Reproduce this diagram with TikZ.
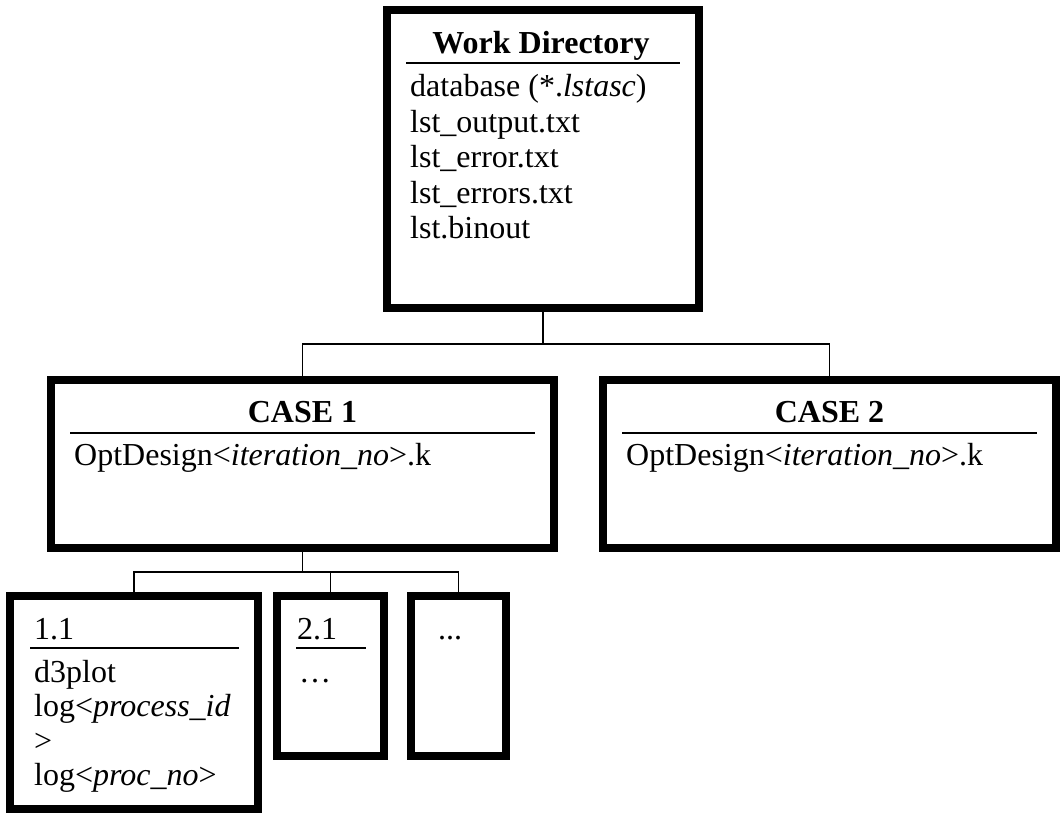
\documentclass[tikz,border=0pt]{standalone}
\usepackage{fontspec}
\setmainfont{Liberation Serif}
\usetikzlibrary{
  positioning,
  calc
}

\begin{document}
\begin{tikzpicture}[
  x=1pt, y=-1pt,
  font=\fontsize{32}{35.5}\selectfont,
  folder/.style={
    draw=black,
    line width=8pt,
    inner sep=0pt,
    outer sep=0pt
  },
  link/.style={
    draw=black,
    line width=1.8pt
  },
  rule/.style={
    line width=1.5pt
  },
  entry/.style={
    anchor=base west,
    inner sep=0pt
  },
  heading/.style={
    anchor=base,
    inner sep=0pt,
    font=\fontsize{32}{35.5}\selectfont\bfseries
  }
]

\useasboundingbox (0,0) rectangle (1061,814);

% Boxes
\node[folder, minimum width=312pt, minimum height=298pt] (workdir) at (543,159) {};
\node[folder, minimum width=503pt, minimum height=168pt] (case1) at (302.5,464) {};
\node[folder, minimum width=453pt, minimum height=168pt] (case2) at (829.5,464) {};
\node[folder, minimum width=248pt, minimum height=213pt] (run11) at (134,702.5) {};
\node[folder, minimum width=107pt, minimum height=160pt] (run21) at (330.5,676) {};
\node[folder, minimum width=95pt, minimum height=160pt] (runmore) at (458.5,676) {};

% Work directory
\node[heading] (workdir-title) at ($(workdir.north)+(-2,43)$) {Work Directory};
\draw[rule] ($(workdir.north west)+(19,53)$) -- ($(workdir.north east)+(-19,53)$);
\foreach \f [count=\i from 0] in {database (*.\textit{lstasc}), lst\_output.txt, lst\_error.txt, lst\_errors.txt, lst.binout} {
  \node[entry] (workdir-\i) at ($(workdir.north west)+(23,86.5+35.5*\i)$) {\f};
}

% Cases
\foreach \c/\n in {case1/1, case2/2} {
  \node[heading] (\c-title) at ($(\c.north)+(0,42)$) {CASE \n};
  \draw[rule] ($(\c.north west)+(19,53)$) -- ($(\c.north east)+(-19,53)$);
  \node[entry] (\c-0) at ($(\c.north west)+(23,85)$) {OptDesign<\textit{iteration\_no}>.k};
}

% Runs
\node[entry] (run11-title) at ($(run11.north west)+(24,43)$) {1.1};
\draw[rule] ($(run11.north west)+(20,52)$) -- ($(run11.north east)+(-19,52)$);
\foreach \f [count=\i from 0] in {d3plot, log<\textit{process\_id}, >, log<\textit{proc\_no}>} {
  \node[entry] (run11-\i) at ($(run11.north west)+(24,86+34.5*\i)$) {\f};
}

\node[entry] (run21-title) at ($(run21.north west)+(20,43)$) {2.1};
\draw[rule] ($(run21.north west)+(19,52)$) -- ($(run21.north east)+(-18,52)$);
\node[entry] (run21-0) at ($(run21.north west)+(22,86)$) {…};

\node[entry] (runmore-title) at ($(runmore.north west)+(27,43)$) {...};

% Connectors
\coordinate (split1) at ($(workdir.south)+(0,36)$);
\draw[link] (workdir.south) -- (split1);
\draw[link] (case1.north) |- (split1) -| (case2.north);

\coordinate (split2) at ($(case1.south)+(0,24)$);
\draw[link] (case1.south) -- (split2);
\draw[link] (run11.north) |- (split2) -| (runmore.north);
\draw[link] (run21.north) -- (run21.north |- split2);

\end{tikzpicture}
\end{document}
